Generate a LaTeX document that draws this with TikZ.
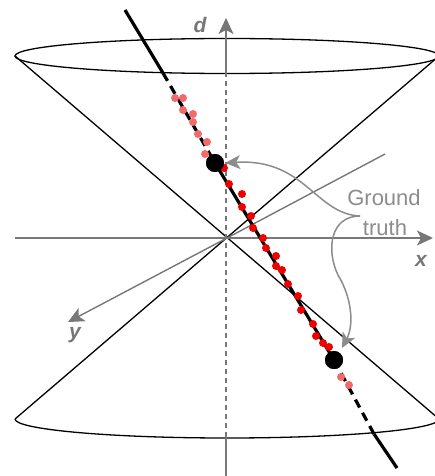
\documentclass[tikz,border=0pt]{standalone}
\usepackage{fontspec}
\setmainfont{Liberation Sans}
\usetikzlibrary{arrows.meta}
\definecolor{axisgray}{HTML}{777777}
\definecolor{gtgray}{HTML}{8C8C8C}
\definecolor{lightred}{HTML}{F46A6A}
\definecolor{brightred}{HTML}{F00000}
\begin{document}
\begin{tikzpicture}[x=1pt,y=-1pt,
  cone/.style={black, line width=1.3pt},
  axis/.style={axisgray, line width=1.4pt},
  axtip/.style={-{Stealth[length=16pt,width=15pt,inset=4pt]}},
  gtarrow/.style={gtgray, line width=1.5pt, -{Stealth[length=15pt,width=14pt,inset=4pt]}},
  track/.style={black, line width=3.2pt},
  trackdash/.style={track, dash pattern=on 9pt off 6pt},
  lp/.style={circle, fill=lightred, inner sep=0pt, minimum size=8pt},
  rp/.style={circle, fill=brightred, inner sep=0pt, minimum size=8pt},
  gtp/.style={circle, fill=black, inner sep=0pt, minimum size=18pt},
  axlabel/.style={text=axisgray, font=\fontsize{21}{21}\selectfont\bfseries\itshape, inner sep=0pt},
  gtlabel/.style={text=gtgray, font=\fontsize{22}{22}\selectfont, inner sep=0pt, anchor=base}
]
\useasboundingbox (0,0) rectangle (434,476);

% coordinates
\coordinate (O) at (227,238);
\coordinate (TL) at (15,56);
\coordinate (TR) at (439,56);
\coordinate (BL) at (15,419);
\coordinate (BR) at (439,419);
\coordinate (xs) at (15,238);
\coordinate (xe) at (433,238);
\coordinate (yneg) at (385,154);
\coordinate (ypos) at (68,322);
\coordinate (dtop) at (226,18);
\coordinate (dup) at (226,76);
\coordinate (ddown) at (226,437);
\coordinate (dbot) at (226,476);
\coordinate (L0) at (125,10);
\coordinate (L1) at (163,73);
\coordinate (L2) at (374,434);
\coordinate (L3) at (397,468);
\coordinate (gts) at (360,216);
\coordinate (gtk) at (338,275);

% cones
\draw[cone] (227,56) ellipse [x radius=212pt, y radius=17.5pt];
\draw[cone] (BL) arc[start angle=180, end angle=360, x radius=212pt, y radius=19pt];
\draw[cone] (TL) -- (BR);
\draw[cone] (TR) -- (BL);

% axes
\draw[axis] (xs) -- (O);
\draw[axis, axtip] (O) -- (xe);
\draw[axis] (O) -- (yneg);
\draw[axis, axtip] (O) -- (ypos);
\draw[axis, dash pattern=on 5pt off 4pt] (ddown) -- (dup);
\draw[axis, axtip] (dup) -- (dtop);
\draw[axis] (ddown) -- (dbot);

% ground truth points
\node[gtp] (G1) at (215,163) {};
\node[gtp] (G2) at (334,360) {};

% track
\draw[track] (L0) -- (L1);
\draw[trackdash] (L1) -- (G1.center);
\draw[track] (G1.center) -- (G2.center);
\draw[trackdash] (G2.center) -- (L2);
\draw[track] (L2) -- (L3);

% light red points
\foreach \p [count=\i] in {(175,98),(183,98),(183,110),(193,114),(193,122),(198,134),(207,142),(205,154),(341,377),(349,385)}
  \node[lp] (l\i) at \p {};
% bright red points
\foreach \p [count=\i] in {(224,168),(229,184),(242,194),(242,207),(251,216),(253,228),(263,238),(266,248),(276,256),(276,266),(282,270),(288,284),(298,296),(301,310),(313,324),(316,336),(323,343),(329,347)}
  \node[rp] (r\i) at \p {};

\node[gtp] at (G1) {};
\node[gtp] at (G2) {};

% labels
\node[axlabel] (dl) at (200,25) {d};
\node[axlabel] (xl) at (421,261) {x};
\node[axlabel] (yl) at (75,335) {y};
\node[gtlabel] (gt1) at (384,205) {Ground};
\node[gtlabel] (gt2) at (385,235) {truth};

% ground truth arrows
\draw[gtarrow] (gts) .. controls (315,214) and (305,158) .. ([xshift=1pt]G1.east);
\draw[gtgray, line width=1.5pt] (gts) .. controls (330,216) and (326,250) .. (gtk);
\draw[gtarrow] (gtk) .. controls (352,298) and (354,325) .. (342,348);
\end{tikzpicture}
\end{document}
